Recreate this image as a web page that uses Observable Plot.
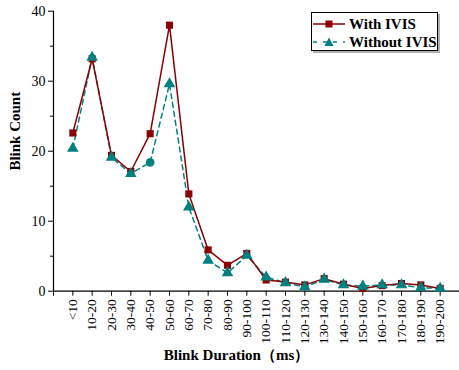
<!DOCTYPE html>
<html>
<head>
<meta charset="utf-8">
<script src="https://cdn.jsdelivr.net/npm/d3@7"></script>
<script src="https://cdn.jsdelivr.net/npm/@observablehq/plot@0.6"></script>
<style>
  body { margin: 0; background: #fff; }
  #wrap { position: relative; width: 459px; height: 370px; }
  #legend {
    position: absolute; left: 311px; top: 12px; width: 125px; height: 37px;
    border: 1.5px solid #000; background: #fff; box-shadow: 2px 2px 0 #b0b0b0;
    font-family: "Liberation Serif", "Times New Roman", serif; font-weight: bold; font-size: 15px;
    white-space: nowrap; overflow: visible;
  }
  #legend .row { position: absolute; left: 1px; height: 18px; display: flex; align-items: center; white-space: nowrap; }
  #legend svg { margin-right: 4px; flex: none; }
</style>
</head>
<body>
<div id="wrap"></div>
<script>
const categories = ["<10","10-20","20-30","30-40","40-50","50-60","60-70","70-80","80-90","90-100",
  "100-110","110-120","120-130","130-140","140-150","150-160","160-170","170-180","180-190","190-200"];
const withIVIS = [22.6, 33.2, 19.4, 17.1, 22.5, 38.0, 13.9, 5.9, 3.7, 5.4,
  1.6, 1.3, 0.9, 1.8, 1.0, 0.4, 0.8, 1.1, 0.9, 0.4];
const withoutIVIS = [20.4, 33.4, 19.1, 16.8, 18.4, 29.6, 12.0, 4.4, 2.6, 5.1,
  2.0, 1.2, 0.6, 1.7, 0.9, 0.7, 0.9, 0.9, 0.5, 0.4];
const yTicks = [0, 10, 20, 30, 40];
const yMinorTicks = [5, 15, 25, 35];

const red = "#8B0000";
const teal = "#008080";

const rowsWith = categories.map((c, i) => ({i, v: withIVIS[i]}));
const rowsWithout = categories.map((c, i) => ({i, v: withoutIVIS[i], circle: c === "40-50"}));

const chart = Plot.plot({
  width: 459,
  height: 370,
  marginLeft: 53,
  marginRight: 0,
  marginTop: 10.7,
  marginBottom: 79.3,
  style: {fontFamily: "'Liberation Serif', 'Times New Roman', serif", fontSize: "14px", color: "#000", background: "#fff"},
  x: {type: "linear", domain: [-1, categories.length]},
  y: {domain: [0, 40]},
  marks: [
    Plot.ruleY([0], {stroke: "#000", strokeWidth: 1.2}),
    Plot.ruleX([-1], {y1: 0, y2: 40, stroke: "#000", strokeWidth: 1.2}),
    Plot.axisY({ticks: yTicks, tickSize: 5, tickPadding: 3, fontSize: 14, label: null, strokeWidth: 1}),
    Plot.axisY({ticks: yMinorTicks, tickSize: 3, tickFormat: () => "", label: null}),
    Plot.axisX({ticks: d3.range(-1, categories.length + 1), tickSize: 5, tickRotate: -90, tickPadding: 3,
      fontSize: 13.5, tickFormat: i => categories[i] ?? "", label: null}),
    Plot.text(["Blink Count"], {frameAnchor: "left", text: d => d, rotate: -90, dx: -38, dy: -20,
      fontWeight: "bold", fontSize: 15, textAnchor: "middle"}),
    Plot.text(["Blink Duration（ms）"], {frameAnchor: "bottom", text: d => d, dx: -20, dy: 69,
      fontWeight: "bold", fontSize: 15, textAnchor: "middle"}),
    Plot.line(rowsWithout, {x: "i", y: "v", stroke: teal, strokeWidth: 1.5, strokeDasharray: "5,4"}),
    Plot.line(rowsWith, {x: "i", y: "v", stroke: red, strokeWidth: 1.5}),
    Plot.dot(rowsWith, {x: "i", y: "v", symbol: "square", r: 4, fill: red, stroke: "none"}),
    Plot.dot(rowsWithout, {x: "i", y: "v", symbol: d => d.circle ? "circle" : "triangle", r: 4.3, fill: teal, stroke: "none"})
  ]
});
const wrap = document.getElementById("wrap");
wrap.appendChild(chart);

const legend = document.createElement("div");
legend.id = "legend";
legend.innerHTML = `
  <div class="row" style="top:2px">
    <svg width="32" height="12"><line x1="0" y1="6" x2="32" y2="6" stroke="${red}" stroke-width="1.5"/><rect x="12.5" y="2.5" width="7" height="7" fill="${red}"/></svg>
    <span>With IVIS</span>
  </div>
  <div class="row" style="top:20px">
    <svg width="32" height="12"><line x1="0" y1="6" x2="32" y2="6" stroke="${teal}" stroke-width="1.5" stroke-dasharray="4,6"/><path d="M16,1.5 L20.5,10 L11.5,10 Z" fill="${teal}"/></svg>
    <span>Without IVIS</span>
  </div>`;
wrap.appendChild(legend);
</script>
</body>
</html>
